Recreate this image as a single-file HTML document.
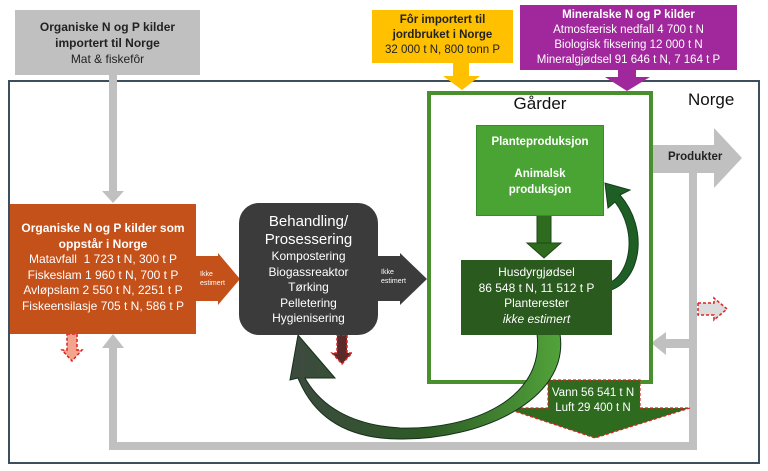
<!DOCTYPE html>
<html><head><meta charset="utf-8"><style>
body{margin:0;width:768px;height:471px;background:#fff;position:relative;overflow:hidden;font-family:"Liberation Sans",sans-serif}
.a{position:absolute;box-sizing:border-box}
.c{text-align:center}
svg{position:absolute;left:0;top:0}
</style></head><body>
<div class="a" style="left:8px;top:80px;width:752px;height:384px;border:2px solid #3d4f5c"></div>
<svg width="768" height="471">
<rect x="109" y="75" width="8" height="118" fill="#c0c0c0"/>
<polygon points="102,191 124,191 113,203" fill="#c0c0c0"/>
<polyline points="113,345 113,446 693,446 693,170" fill="none" stroke="#c0c0c0" stroke-width="8"/>
<polygon points="102,348 124,348 113,334" fill="#c0c0c0"/>
<rect x="664" y="339" width="30" height="9" fill="#c0c0c0"/>
<polygon points="666,332 666,355 651,343" fill="#c0c0c0"/>
<polygon points="653,145 714,145 714,128 742,158 714,188 714,173 653,173" fill="#c0c0c0"/>
<rect x="453" y="62" width="16" height="16" fill="#ffc000"/>
<polygon points="443,76 480,76 462,90" fill="#ffc000"/>
<rect x="618" y="69" width="18" height="10" fill="#a0289c"/>
<polygon points="605,77 650,77 627,91" fill="#a0289c"/>
<polygon points="196,256 218,256 218,253 240,279 218,305 218,301 196,301" fill="#c4501a"/>
<polygon points="378,256 400,256 400,253 427,279 400,305 400,301 378,301" fill="#3b3b3b"/>
<polygon points="67,334 77,334 77,350 82,350 72,361 62,350 67,350" fill="#f4a48c" stroke="#e02020" stroke-width="1.5" stroke-dasharray="3,2"/>
<polygon points="337,335 347,335 347,353 352,353 342,364 332,353 337,353" fill="#5a2a2a" stroke="#e02020" stroke-width="1.5" stroke-dasharray="3,2"/>
<polygon points="698,303 714,303 714,298 727,309 714,320 714,315 698,315" fill="#dcdcdc" stroke="#e02020" stroke-width="1.5" stroke-dasharray="3,2"/>
</svg>
<div class="a" style="left:427px;top:91px;width:226px;height:293px;border:4px solid #4a8f2e;background:#fff"></div>
<svg width="768" height="471">
<defs>
<linearGradient id="g1" x1="0" y1="0" x2="1" y2="0"><stop offset="0" stop-color="#3d4a40"/><stop offset="0.5" stop-color="#2d5a25"/><stop offset="1" stop-color="#52a33a"/></linearGradient>
</defs>
<polygon points="548,380 640,380 640,408 690,408 595,438 505,408 548,408" fill="#2e6b1f" stroke="#e02020" stroke-width="1.2" stroke-dasharray="3,2"/>
<rect x="537" y="214" width="14" height="30" fill="#2e6b1f" stroke="#1f4a15"/>
<polygon points="527,243 561,243 544,258" fill="#2e6b1f" stroke="#1f4a15"/>
<path d="M611,290 C640,280 650,230 620,195 L630,190 L605,183 L608,208 L615,202 C638,232 630,272 611,282 Z" fill="#1f5e25" stroke="#12401a"/>
<path d="M537,334 C545,400 470,430 400,428 C350,425 320,405 305,378 L335,378 L298,335 L290,380 L298,378 C315,420 350,439 400,439 C480,440 570,400 560,334 Z" fill="url(#g1)" stroke="#14301a" stroke-width="1"/>
</svg>
<div class="a" style="left:548px;top:386px;width:90px;height:36px;color:#fff;font-size:11.5px;line-height:15px"><div class="c">Vann 56 541 t N<br>Luft 29 400 t N</div></div>
<div class="a c" style="left:15px;top:10px;width:185px;height:65px;background:#c0c0c0;color:#222;font-size:12px;line-height:16px;padding-top:9px"><b>Organiske N og P kilder<br>importert til Norge</b><br>Mat &amp; fiskefôr</div>
<div class="a c" style="left:372px;top:10px;width:141px;height:53px;background:#ffc000;color:#222;font-size:11.5px;line-height:15px;padding-top:3px"><b>Fôr importert til<br>jordbruket i Norge</b><br>32 000 t N, 800 tonn P</div>
<div class="a c" style="left:520px;top:5px;width:217px;height:65px;background:#a0289c;color:#fff;font-size:11.5px;line-height:15px;padding-top:3px"><b>Mineralske N og P kilder</b><br>Atmosfærisk nedfall 4 700 t N<br>Biologisk fiksering 12 000 t N<br>Mineralgjødsel 91 646 t N, 7 164 t P</div>
<div class="a" style="left:688px;top:90px;font-size:17px;color:#111">Norge</div>
<div class="a c" style="left:431px;top:94px;width:218px;font-size:17px;color:#111">Gårder</div>
<div class="a" style="left:668px;top:151px;font-size:11.5px;font-weight:bold;color:#222">Produkter</div>
<div class="a c" style="left:476px;top:125px;width:128px;height:91px;background:#4aa434;border:1px solid #3a8a2a;color:#fff;font-weight:bold;font-size:11.5px;line-height:16px;padding-top:8px">Planteproduksjon<br><br>Animalsk<br>produksjon</div>
<div class="a c" style="left:461px;top:260px;width:151px;height:75px;background:#2b5a1e;color:#fff;font-size:12px;line-height:15.5px;padding-top:5px">Husdyrgjødsel<br>86 548 t N, 11 512 t P<br>Planterester<br><i>ikke estimert</i></div>
<div class="a c" style="left:10px;top:204px;width:186px;height:130px;background:#c4501a;color:#fff;font-size:12px;line-height:15.5px;padding-top:17px"><b>Organiske N og P kilder som<br>oppstår i Norge</b><br>Matavfall&nbsp; 1 723 t N, 300 t P<br>Fiskeslam 1 960 t N, 700 t P<br>Avløpslam 2 550 t N, 2251 t P<br>Fiskeensilasje 705 t N, 586 t P</div>
<div class="a c" style="left:239px;top:203px;width:139px;height:132px;background:#3b3b3b;border-radius:20px;color:#fff;font-size:12px;line-height:15.5px;padding-top:10px"><span style="font-size:15px;line-height:18px">Behandling/<br>Prosessering</span><br>Kompostering<br>Biogassreaktor<br>Tørking<br>Pelletering<br>Hygienisering</div>
<div class="a" style="left:200px;top:270px;font-size:7px;line-height:9px;color:#fff">Ikke<br>estimert</div>
<div class="a" style="left:381px;top:268px;font-size:7px;line-height:9px;color:#fff">Ikke<br>estimert</div>
</body></html>
